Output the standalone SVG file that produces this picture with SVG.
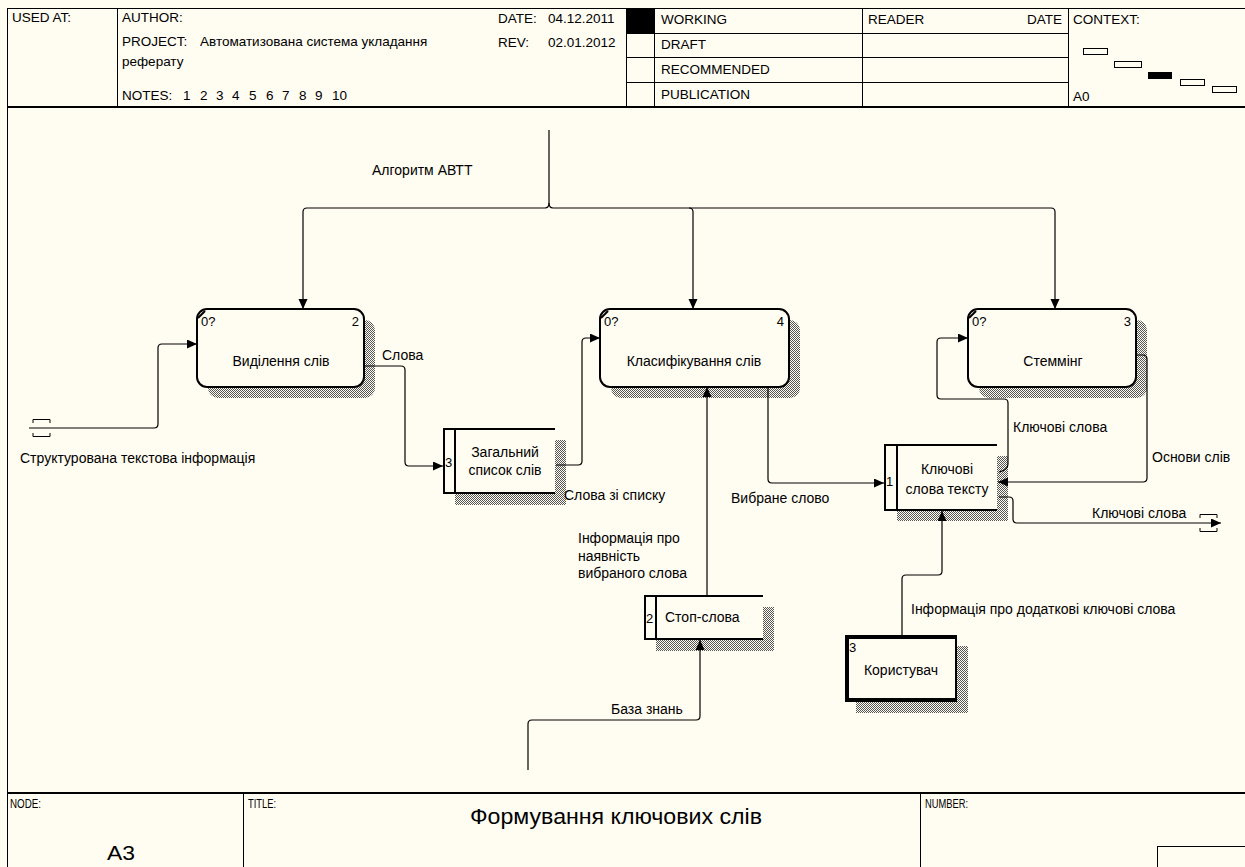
<svg xmlns="http://www.w3.org/2000/svg" width="1245" height="867" viewBox="0 0 1245 867">
<defs>
<style>
text{font-family:"Liberation Sans",Arial,sans-serif;fill:#000}
.t{font-size:14px}
.h{font-size:13.5px}
.s{font-size:13px}
.c{text-anchor:middle}
.ln{stroke:#000;stroke-width:1;fill:none}
.fr{stroke:#000;stroke-width:1;fill:none}
.bx{stroke:#000;stroke-width:2;fill:#fffcf2}
.st{stroke:#000;stroke-width:2;fill:none}
.cn{stroke:#000;stroke-width:1.2;fill:none}
</style>
<pattern id="hatch" width="2" height="2" patternUnits="userSpaceOnUse">
<rect x="0" y="0" width="1" height="1" fill="#555"/>
<rect x="1" y="1" width="1" height="1" fill="#555"/>
</pattern>
<marker id="ah" markerUnits="userSpaceOnUse" markerWidth="11" markerHeight="10" refX="10" refY="4.5" orient="auto">
<path d="M0,0 L10,4.5 L0,9 z" fill="#000"/>
</marker>
</defs>
<rect x="0" y="0" width="1245" height="867" fill="#fffcf2"/>

<g id="header">
<line x1="7" y1="8.5" x2="1245" y2="8.5" class="fr"/>
<line x1="7.5" y1="8" x2="7.5" y2="867" class="fr"/>
<line x1="7" y1="107" x2="1245" y2="107" stroke="#000" stroke-width="2"/>
<line x1="117.5" y1="8" x2="117.5" y2="107" class="fr"/>
<line x1="626.5" y1="8" x2="626.5" y2="107" class="fr"/>
<line x1="654.5" y1="8" x2="654.5" y2="107" class="fr"/>
<line x1="862.5" y1="8" x2="862.5" y2="107" class="fr"/>
<line x1="1068.5" y1="8" x2="1068.5" y2="107" class="fr"/>
<line x1="626" y1="33.5" x2="1068" y2="33.5" class="fr"/>
<line x1="626" y1="57.5" x2="1068" y2="57.5" class="fr"/>
<line x1="626" y1="82.5" x2="1068" y2="82.5" class="fr"/>
<rect x="627" y="9" width="27" height="24" fill="#000"/>
<text x="12" y="22" class="h">USED AT:</text>
<text x="122" y="22" class="h">AUTHOR:</text>
<text x="122" y="46" class="h">PROJECT:</text>
<text x="200" y="46" class="h">Автоматизована система укладання</text>
<text x="122" y="66" class="h">реферату</text>
<text x="122" y="100" class="h">NOTES:</text>
<text y="100" class="h"><tspan x="183">1</tspan><tspan x="200">2</tspan><tspan x="216">3</tspan><tspan x="232">4</tspan><tspan x="249">5</tspan><tspan x="266">6</tspan><tspan x="282">7</tspan><tspan x="299">8</tspan><tspan x="315">9</tspan><tspan x="332">10</tspan></text>
<text x="498" y="23" class="h">DATE:</text>
<text x="548" y="23" class="h">04.12.2011</text>
<text x="498" y="47" class="h">REV:</text>
<text x="548" y="47" class="h">02.01.2012</text>
<text x="661" y="24" class="h">WORKING</text>
<text x="661" y="49" class="h">DRAFT</text>
<text x="661" y="74" class="h">RECOMMENDED</text>
<text x="661" y="99" class="h">PUBLICATION</text>
<text x="868" y="24" class="h">READER</text>
<text x="1062" y="24" class="h" text-anchor="end">DATE</text>
<text x="1073" y="24" class="h">CONTEXT:</text>
<text x="1073" y="101" class="h">A0</text>
<rect x="1083.5" y="48.5" width="24" height="6" fill="none" stroke="#000"/>
<rect x="1114.5" y="61.5" width="27" height="6" fill="none" stroke="#000"/>
<rect x="1148" y="72" width="24" height="7" fill="#000"/>
<rect x="1180.5" y="79.5" width="24" height="6" fill="none" stroke="#000"/>
<rect x="1212.5" y="86.5" width="24" height="6" fill="none" stroke="#000"/>
</g>

<g id="footer">
<line x1="7" y1="793" x2="1245" y2="793" stroke="#000" stroke-width="2"/>
<line x1="243.5" y1="793" x2="243.5" y2="867" class="fr"/>
<line x1="920.5" y1="793" x2="920.5" y2="867" class="fr"/>
<line x1="1157.5" y1="846" x2="1157.5" y2="867" class="fr"/>
<line x1="1157" y1="846.5" x2="1245" y2="846.5" class="fr"/>
<text x="10" y="808" class="s" textLength="31" lengthAdjust="spacingAndGlyphs">NODE:</text>
<text x="248" y="808" class="s" textLength="28" lengthAdjust="spacingAndGlyphs">TITLE:</text>
<text x="925" y="808" class="s" textLength="43" lengthAdjust="spacingAndGlyphs">NUMBER:</text>
<text x="470" y="824" font-size="22" textLength="292" lengthAdjust="spacingAndGlyphs">Формування ключових слів</text>
<text x="107" y="860" font-size="21" textLength="28" lengthAdjust="spacingAndGlyphs">A3</text>
</g>

<g id="node-A32">
<rect x="208" y="320" width="167" height="78" rx="10" fill="url(#hatch)"/>
<rect x="197" y="309" width="167" height="78" rx="10" class="bx"/>
<line x1="198" y1="318" x2="205" y2="311" stroke="#000" stroke-width="2"/>
<text x="201" y="326" font-size="13">0?</text>
<text x="359" y="326" font-size="13" text-anchor="end">2</text>
<text x="281" y="366" class="t c">Виділення слів</text>
</g>

<g id="node-A34">
<rect x="611" y="320" width="189" height="78" rx="10" fill="url(#hatch)"/>
<rect x="600" y="309" width="189" height="78" rx="10" class="bx"/>
<line x1="601" y1="318" x2="608" y2="311" stroke="#000" stroke-width="2"/>
<text x="604" y="326" font-size="13">0?</text>
<text x="784" y="326" font-size="13" text-anchor="end">4</text>
<text x="694" y="366" class="t c">Класифікування слів</text>
</g>

<g id="node-A33">
<rect x="979" y="320" width="168" height="78" rx="10" fill="url(#hatch)"/>
<rect x="968" y="309" width="168" height="78" rx="10" class="bx"/>
<line x1="969" y1="318" x2="976" y2="311" stroke="#000" stroke-width="2"/>
<text x="972" y="326" font-size="13">0?</text>
<text x="1131" y="326" font-size="13" text-anchor="end">3</text>
<text x="1053" y="366" class="t c">Стеммінг</text>
</g>

<g id="store-D3">
<rect x="455" y="440" width="111" height="65" fill="url(#hatch)"/>
<rect x="443" y="428" width="112" height="66" fill="#fffcf2"/>
<path class="st" d="M555,429 H444 V493 H555 M455,429 V493"/>
<text x="445" y="467" font-size="13">3</text>
<text x="505" y="457" class="t c">Загальний</text>
<text x="505" y="475" class="t c">список слів</text>
</g>

<g id="store-D2">
<rect x="656" y="607" width="118" height="44" fill="url(#hatch)"/>
<rect x="644" y="595" width="119" height="45" fill="#fffcf2"/>
<path class="st" d="M763,596 H645 V639 H763 M656,596 V639"/>
<text x="646" y="623" font-size="13">2</text>
<text x="665" y="622" class="t">Стоп-слова</text>
</g>

<g id="store-D1">
<rect x="897" y="456" width="111" height="65" fill="url(#hatch)"/>
<rect x="884" y="444" width="113" height="67" fill="#fffcf2"/>
<path class="st" d="M997,445 H885 V510 H997 M897,445 V510"/>
<text x="886" y="486" font-size="13">1</text>
<text x="947" y="474" class="t c">Ключові</text>
<text x="947" y="494" class="t c">слова тексту</text>
</g>

<g id="external-E3">
<rect x="856" y="646" width="112" height="67" fill="url(#hatch)"/>
<rect x="845" y="635" width="112" height="67" fill="#000"/>
<rect x="849" y="639" width="106" height="59" fill="#fffcf2"/>
<text x="849" y="652" font-size="13">3</text>
<text x="901" y="675" class="t c">Користувач</text>
</g>

<g id="connectors">
<path class="cn" d="M549,130 V203 Q549,208 545,208 H307 Q303,208 303,212 V309" marker-end="url(#ah)"/>
<path class="cn" d="M549,203 Q549,208 553,208 H1051 Q1055,208 1055,212 V309" marker-end="url(#ah)"/>
<path class="cn" d="M689,208 Q693,208 693,212 V309" marker-end="url(#ah)"/>
<text x="372" y="175" class="t">Алгоритм АВТТ</text>
<path class="cn" d="M29,428 H154 Q158,428 158,424 V348 Q158,344 162,344 H197" marker-end="url(#ah)"/>
<path class="ln" d="M33,423 V419.5 H50 V423"/>
<path class="ln" d="M33,433 V436.5 H50 V433"/>
<text x="20" y="463" class="t">Структурована текстова інформація</text>
<path class="cn" d="M364,366 H401 Q405,366 405,370 V462 Q405,466 409,466 H443" marker-end="url(#ah)"/>
<text x="382" y="360" class="t">Слова</text>
<path class="cn" d="M556,465 H578 Q582,465 582,461 V342 Q582,338 586,338 H600" marker-end="url(#ah)"/>
<text x="564" y="500" class="t">Слова зі списку</text>
<path class="cn" d="M768,387 V479 Q768,483 772,483 H884" marker-end="url(#ah)"/>
<text x="731" y="503" class="t">Вибране слово</text>
<path class="cn" d="M707,595 V387" marker-end="url(#ah)"/>
<text x="578" y="543" class="t">Інформація про</text>
<text x="578" y="561" class="t">наявність</text>
<text x="578" y="578" class="t">вибраного слова</text>
<path class="cn" d="M528,770 V724 Q528,720 532,720 H696 Q700,720 700,716 V640" marker-end="url(#ah)"/>
<text x="611" y="714" class="t">База знань</text>
<path class="cn" d="M999,472 Q1008,470 1008,464 V403 Q1008,399 1004,399 H941 Q937,399 937,395 V342 Q937,338 941,338 H968" marker-end="url(#ah)"/>
<text x="1013" y="432" class="t">Ключові слова</text>
<path class="cn" d="M1136,355 H1143 Q1147,355 1147,359 V478 Q1147,482 1143,482 H998" marker-end="url(#ah)"/>
<text x="1152" y="462" class="t">Основи слів</text>
<path class="cn" d="M999,497 H1009 Q1013,497 1013,501 V519 Q1013,523 1017,523 H1221" marker-end="url(#ah)"/>
<path class="ln" d="M1200,518 V514.5 H1217 V518"/>
<path class="ln" d="M1200,528 V531.5 H1217 V528"/>
<text x="1092" y="518" class="t">Ключові слова</text>
<path class="cn" d="M902,635 V579 Q902,575 906,575 H938 Q942,575 942,571 V511" marker-end="url(#ah)"/>
<text x="911" y="614" class="t">Інформація про додаткові ключові слова</text>
</g>
</svg>
